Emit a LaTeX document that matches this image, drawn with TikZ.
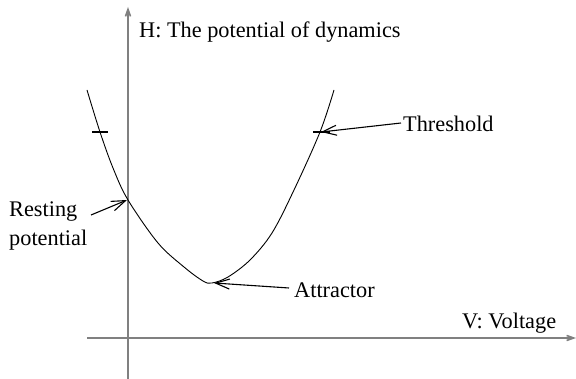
\documentclass[tikz,border=0pt]{standalone}
\usepackage{fontspec}
\setmainfont{Liberation Serif}
\usetikzlibrary{arrows.meta}
\begin{document}
\begin{tikzpicture}[x=1pt,y=-1pt,
  axis/.style={draw=black!50,line width=1.6pt,-{Straight Barb[length=7pt,width=5pt]}},
  curve/.style={draw=black,line width=0.9pt},
  tickmark/.style={draw=black,line width=1.8pt},
  pointer/.style={draw=black,line width=1.1pt,-{Straight Barb[length=14pt,width=10pt,line width=1.1pt]}},
  lbl/.style={font=\fontsize{22.3}{26}\selectfont,inner sep=0pt,anchor=base west}]
\useasboundingbox (0,0) rectangle (576,379);
% axes
\coordinate (ybot) at (128,379);
\coordinate (ytop) at (128,7);
\coordinate (xl) at (87,338);
\coordinate (xr) at (576,338);
\draw[axis] (ybot) -- (ytop);
\draw[axis] (xl) -- (xr);
% curve
\draw[curve] plot[smooth,tension=0.55] coordinates {(87,90) (100,132) (113,168) (128,200) (158,243) (184,267) (203,281) (212,283) (228,277) (250,260) (272,233) (294,190) (320,132) (334,90)};
% ticks
\coordinate (tl1) at (92,132); \coordinate (tl2) at (108,132);
\coordinate (tr1) at (313,132); \coordinate (tr2) at (330,132);
\draw[tickmark] (tl1) -- (tl2);
\draw[tickmark] (tr1) -- (tr2);
% labels
\node[lbl] (hlab) at (139,38) {H: The potential of dynamics};
\node[lbl] (vlab) at (462,329) {V: Voltage};
\node[lbl] (thr) at (403,132) {Threshold};
\node[lbl] (att) at (294,298) {Attractor};
\node[lbl] (rest1) at (9,217) {Resting};
\node[lbl] (rest2) at (9,246) {potential};
% pointer targets and tails
\coordinate (thrpt) at (321,132);
\coordinate (attpt) at (214,283);
\coordinate (restpt) at (127,200);
\coordinate (thrtail) at (401,123);
\coordinate (atttail) at (289,288);
\coordinate (resttail) at (91,215);
\draw[pointer] (thrtail) -- (thrpt);
\draw[pointer] (atttail) -- (attpt);
\draw[pointer] (resttail) -- (restpt);
\end{tikzpicture}
\end{document}
